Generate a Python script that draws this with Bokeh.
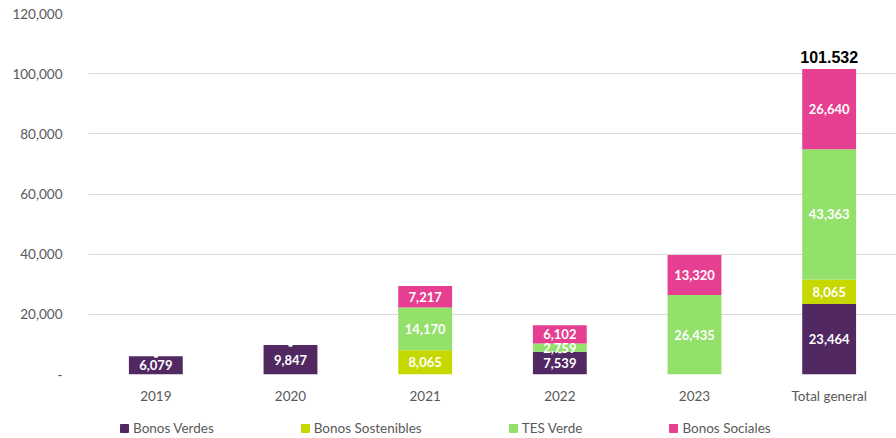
from bokeh.plotting import figure
from bokeh.layouts import column
from bokeh.models import ColumnDataSource, Legend, LegendItem, FixedTicker, CustomJSTickFormatter, FactorRange
from bokeh.core.properties import value
from bokeh.embed import file_html
from bokeh.resources import INLINE

categories = ["2019", "2020", "2021", "2022", "2023", "Total general"]
series_names = ["Bonos Verdes", "Bonos Sostenibles", "TES Verde", "Bonos Sociales"]
bonos_verdes = [6079, 9847, 0, 7539, 0, 23464]
bonos_sostenibles = [0, 0, 8065, 0, 0, 8065]
tes_verde = [0, 0, 14170, 2759, 26435, 43363]
bonos_sociales = [0, 0, 7217, 6102, 13320, 26640]
total_label = "101.532"
colors = ["#512862", "#C5D900", "#93E06B", "#E63E91"]
y_ticks = [0, 20000, 40000, 60000, 80000, 100000, 120000]

keys = ["verdes", "sost", "tes", "soc"]
series = [bonos_verdes, bonos_sostenibles, tes_verde, bonos_sociales]
data = {"cat": categories}
for k, s in zip(keys, series):
    data[k] = s
src = ColumnDataSource(data)

p = figure(x_range=FactorRange(*categories, range_padding=0), y_range=(0, 120000),
           width=896, height=406, output_backend="svg", toolbar_location=None,
           min_border_left=88, min_border_right=0, min_border_top=13, min_border_bottom=0)
p.outline_line_color = None
p.background_fill_color = "white"

renderers = p.vbar_stack(keys, x="cat", width=0.4, source=src, fill_color=colors,
                         line_color=None)

# data labels
lx, ly, lt = [], [], []
cum = [0] * len(categories)
for s in series:
    for i, v in enumerate(s):
        if v > 0:
            lx.append(categories[i]); ly.append(cum[i] + v / 2); lt.append(f"{v:,}")
        else:
            lx.append(categories[i]); ly.append(cum[i]); lt.append("-")
        cum[i] += v
lab = ColumnDataSource(dict(x=lx, y=ly, t=lt))
p.text(x="x", y="y", text="t", source=lab, text_color="white", text_font=value("Lato"),
       text_font_style="bold", text_font_size="13px", text_align="center", text_baseline="middle")

tot = ColumnDataSource(dict(x=[categories[-1]], y=[cum[-1]], t=[total_label]))
p.text(x="x", y="y", text="t", source=tot, text_color="black", text_font=value("Liberation Sans"),
       text_font_style="bold", text_font_size="16px", text_align="center", text_baseline="bottom",
       y_offset=-6)

# axes
p.yaxis.ticker = FixedTicker(ticks=y_ticks)
p.yaxis.formatter = CustomJSTickFormatter(code="return tick == 0 ? '-' : tick.toLocaleString('en-US');")
for ax in (p.xaxis, p.yaxis):
    ax.axis_line_color = None
    ax.major_tick_line_color = None
    ax.minor_tick_line_color = None
    ax.major_label_text_color = "#595959"
    ax.major_label_text_font = "Lato"
    ax.major_label_text_font_size = "13.5px"
p.yaxis.major_label_standoff = 20
p.xaxis.major_label_standoff = 7
p.xgrid.grid_line_color = None
p.ygrid.grid_line_color = "#D9D9D9"
p.ygrid.ticker = FixedTicker(ticks=y_ticks)

# legend strip
lg = figure(width=896, height=32, x_range=(0, 1), y_range=(0, 1), output_backend="svg",
            toolbar_location=None, x_axis_location=None, y_axis_location=None,
            min_border=0)
lg.outline_line_color = None
lg.grid.grid_line_color = None
off = ColumnDataSource(dict(x=[-10], top=[-10]))
dummies = [lg.vbar(x="x", top="top", width=0.1, source=off, color=c) for c in colors]
items = [LegendItem(label=n, renderers=[r]) for n, r in zip(series_names, dummies)]
legend = Legend(items=items, orientation="horizontal", location=(31, 1),
                spacing=86, padding=0, margin=0, glyph_width=10, glyph_height=10,
                label_standoff=4, label_text_font="Lato", label_text_font_size="13.5px",
                label_height=18, label_text_color="#595959", border_line_color=None,
                background_fill_alpha=0)
lg.add_layout(legend, "center")

layout = column(p, lg, spacing=0)
open("out.html", "w").write(file_html(layout, INLINE))
